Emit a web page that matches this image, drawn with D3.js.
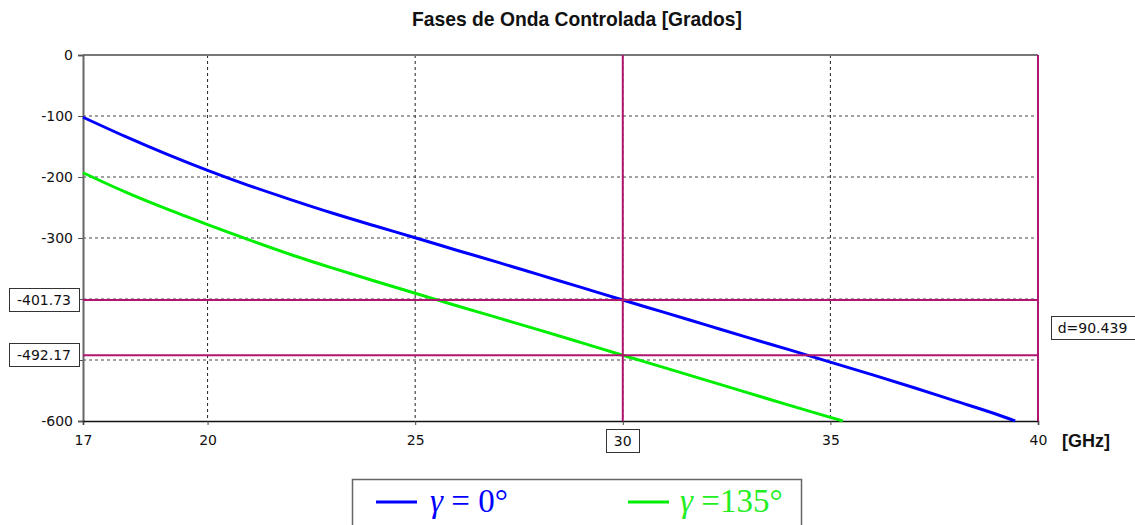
<!DOCTYPE html>
<html>
<head>
<meta charset="utf-8">
<script src="https://cdn.jsdelivr.net/npm/d3@7"></script>
<style>
  html, body { margin: 0; padding: 0; background: #fff; }
  svg { display: block; }
</style>
</head>
<body>
<svg id="chart" width="1135" height="525"></svg>
<script>
// ---- Data ----
const title = "Fases de Onda Controlada [Grados]";
const xUnit = "[GHz]";
const freqBlue  = [17, 18, 19, 20, 21, 22, 23, 24, 25, 26, 27, 28, 29, 30, 31, 32, 33, 34, 35, 36, 37, 38, 39, 39.45];
const phaseBlue = [-102, -133, -162, -189, -214, -237, -259, -279.5, -299.5, -320, -340, -360.5, -381, -401.73, -422, -442.5, -463, -483, -503.5, -524, -545, -567, -589, -600];
const freqGreen  = [17, 18, 19, 20, 21, 22, 23, 24, 25, 26, 27, 28, 29, 30, 31, 32, 33, 34, 35, 35.3];
const phaseGreen = [-193, -224, -252, -278, -303, -327, -349, -370, -390.5, -411, -431, -451, -471.5, -492.17, -512.5, -533, -553.5, -574, -594, -600];
const xTicks = [17, 20, 25, 30, 35, 40];
const yTicks = [0, -100, -200, -300, -400, -500, -600];
const markerX = [30, 40];
const markerY = [-401.73, -492.17];
const markerYLabels = ["-401.73", "-492.17"];
const markerXLabel = "30";
const deltaLabel = "d=90.439";
const seriesSymbol = "γ";
const seriesLabels = [" = 0°", " =135°"];

// ---- Layout ----
const svg = d3.select("#chart");
const L = 83, R = 1038, T = 55, B = 421;
const x = d3.scaleLinear().domain([17, 40]).range([L, R]);
const y = d3.scaleLinear().domain([0, -600]).range([T, B]);
const magenta = "#b0156f";
const labelFont = "'DejaVu Sans', Verdana, sans-serif";
const fmt = d => String(d); // plain hyphen-minus like the reference

// Title
svg.append("text").attr("x", 412).attr("y", 26)
  .attr("font-family", "'Liberation Sans', Arial, sans-serif")
  .attr("font-weight", "bold").attr("font-size", 21).attr("fill", "#111")
  .attr("textLength", 330).attr("lengthAdjust", "spacingAndGlyphs")
  .text(title);

// Grid
const gridX = xTicks.filter(d => d !== 17 && d !== 40);
svg.append("g").selectAll("line").data(gridX).join("line")
  .attr("x1", d => x(d)).attr("x2", d => x(d)).attr("y1", T).attr("y2", B)
  .attr("stroke", "#222").attr("stroke-width", 1).attr("stroke-dasharray", "3,3");
const gridY = yTicks.filter(d => d !== 0 && d !== -600);
svg.append("g").selectAll("line").data(gridY).join("line")
  .attr("x1", L).attr("x2", R).attr("y1", d => y(d)).attr("y2", d => y(d))
  .attr("stroke", "#444").attr("stroke-width", 1).attr("stroke-dasharray", "3,3");

// Top border
svg.append("line").attr("x1", L).attr("x2", R).attr("y1", T).attr("y2", T)
  .attr("stroke", "#777").attr("stroke-width", 2);

// Y axis
const yAxis = d3.axisLeft(y).tickValues(yTicks).tickSize(5).tickPadding(5).tickFormat(fmt);
const gy = svg.append("g").attr("transform", `translate(${L},0)`).call(yAxis);
gy.select(".domain").attr("stroke", "#666").attr("stroke-width", 2);
gy.selectAll(".tick line").attr("stroke", "#555");
gy.selectAll(".tick text").attr("font-family", labelFont).attr("font-size", 14).attr("fill", "#111");
// labels hidden behind the marker value boxes in the reference
gy.selectAll(".tick").filter(d => d === -400 || d === -500).select("text").remove();

// X axis
const xAxis = d3.axisBottom(x).tickValues(xTicks).tickSize(4).tickPadding(10).tickFormat(fmt);
const gx = svg.append("g").attr("transform", `translate(0,${B})`).call(xAxis);
gx.select(".domain").attr("stroke", "#111").attr("stroke-width", 1.5);
gx.selectAll(".tick line").attr("stroke", "#444");
gx.selectAll(".tick text").attr("font-family", labelFont).attr("font-size", 14).attr("fill", "#111");
gx.selectAll(".tick").filter(d => d === 30).select("text").remove();

// x unit label
svg.append("text").attr("x", 1062).attr("y", 447)
  .attr("font-family", "'Liberation Sans', Arial, sans-serif")
  .attr("font-weight", "bold").attr("font-size", 19).attr("fill", "#111")
  .attr("textLength", 48).attr("lengthAdjust", "spacingAndGlyphs").text(xUnit);

// Series
const line = d3.line().x(d => x(d[0])).y(d => y(d[1])).curve(d3.curveMonotoneX);
const blueData = freqBlue.map((f, i) => [f, phaseBlue[i]]);
const greenData = freqGreen.map((f, i) => [f, phaseGreen[i]]);
svg.append("path").datum(greenData).attr("d", line)
  .attr("fill", "none").attr("stroke", "#00ee00").attr("stroke-width", 3);
svg.append("path").datum(blueData).attr("d", line)
  .attr("fill", "none").attr("stroke", "#0000ff").attr("stroke-width", 3);

// Marker lines
svg.append("g").selectAll("line").data(markerY).join("line")
  .attr("x1", L).attr("x2", R).attr("y1", d => y(d)).attr("y2", d => y(d))
  .attr("stroke", magenta).attr("stroke-width", 2);
svg.append("g").selectAll("line").data(markerX).join("line")
  .attr("x1", d => x(d)).attr("x2", d => x(d)).attr("y1", T).attr("y2", B)
  .attr("stroke", magenta).attr("stroke-width", 2);

// Boxed labels helper
function boxLabel(cx, cy, txt, anchor, padX) {
  const g = svg.append("g");
  const t = g.append("text").attr("x", cx).attr("y", cy).attr("dy", "0.36em")
    .attr("text-anchor", anchor).attr("font-family", labelFont).attr("font-size", 14)
    .attr("fill", "#111").text(txt);
  const bb = t.node().getBBox();
  g.insert("rect", "text").attr("x", Math.round(bb.x - padX) + 0.5).attr("y", Math.round(cy - 12) + 0.5)
    .attr("width", Math.round(bb.width + 2 * padX)).attr("height", 23)
    .attr("fill", "#fff").attr("stroke", "#333").attr("stroke-width", 1);
  return g;
}
markerY.forEach((v, i) => boxLabel(71, y(v), markerYLabels[i], "end", 8));
boxLabel(1092.5, 328, deltaLabel, "middle", 7);
boxLabel(x(markerX[0]), 441, markerXLabel, "middle", 7.5);

// Legend
svg.append("rect").attr("x", 352.5).attr("y", 479.5).attr("width", 449).attr("height", 60)
  .attr("fill", "#fff").attr("stroke", "#666").attr("stroke-width", 1.5);
const legendItems = [
  {lx: 376, tx: 430, line: "#0000ff", color: "#0000ff", label: seriesLabels[0]},
  {lx: 628, tx: 680, line: "#00ee00", color: "#22ee22", label: seriesLabels[1]}
];
legendItems.forEach(it => {
  svg.append("line").attr("x1", it.lx).attr("x2", it.lx + 41).attr("y1", 502).attr("y2", 502)
    .attr("stroke", it.line).attr("stroke-width", 3);
  const t = svg.append("text").attr("x", it.tx).attr("y", 512)
    .attr("font-family", "'Liberation Serif', 'Times New Roman', serif").attr("font-size", 33)
    .attr("fill", it.color).attr("xml:space", "preserve");
  t.append("tspan").attr("font-style", "italic").text(seriesSymbol);
  t.append("tspan").text(it.label);
});
</script>
</body>
</html>
